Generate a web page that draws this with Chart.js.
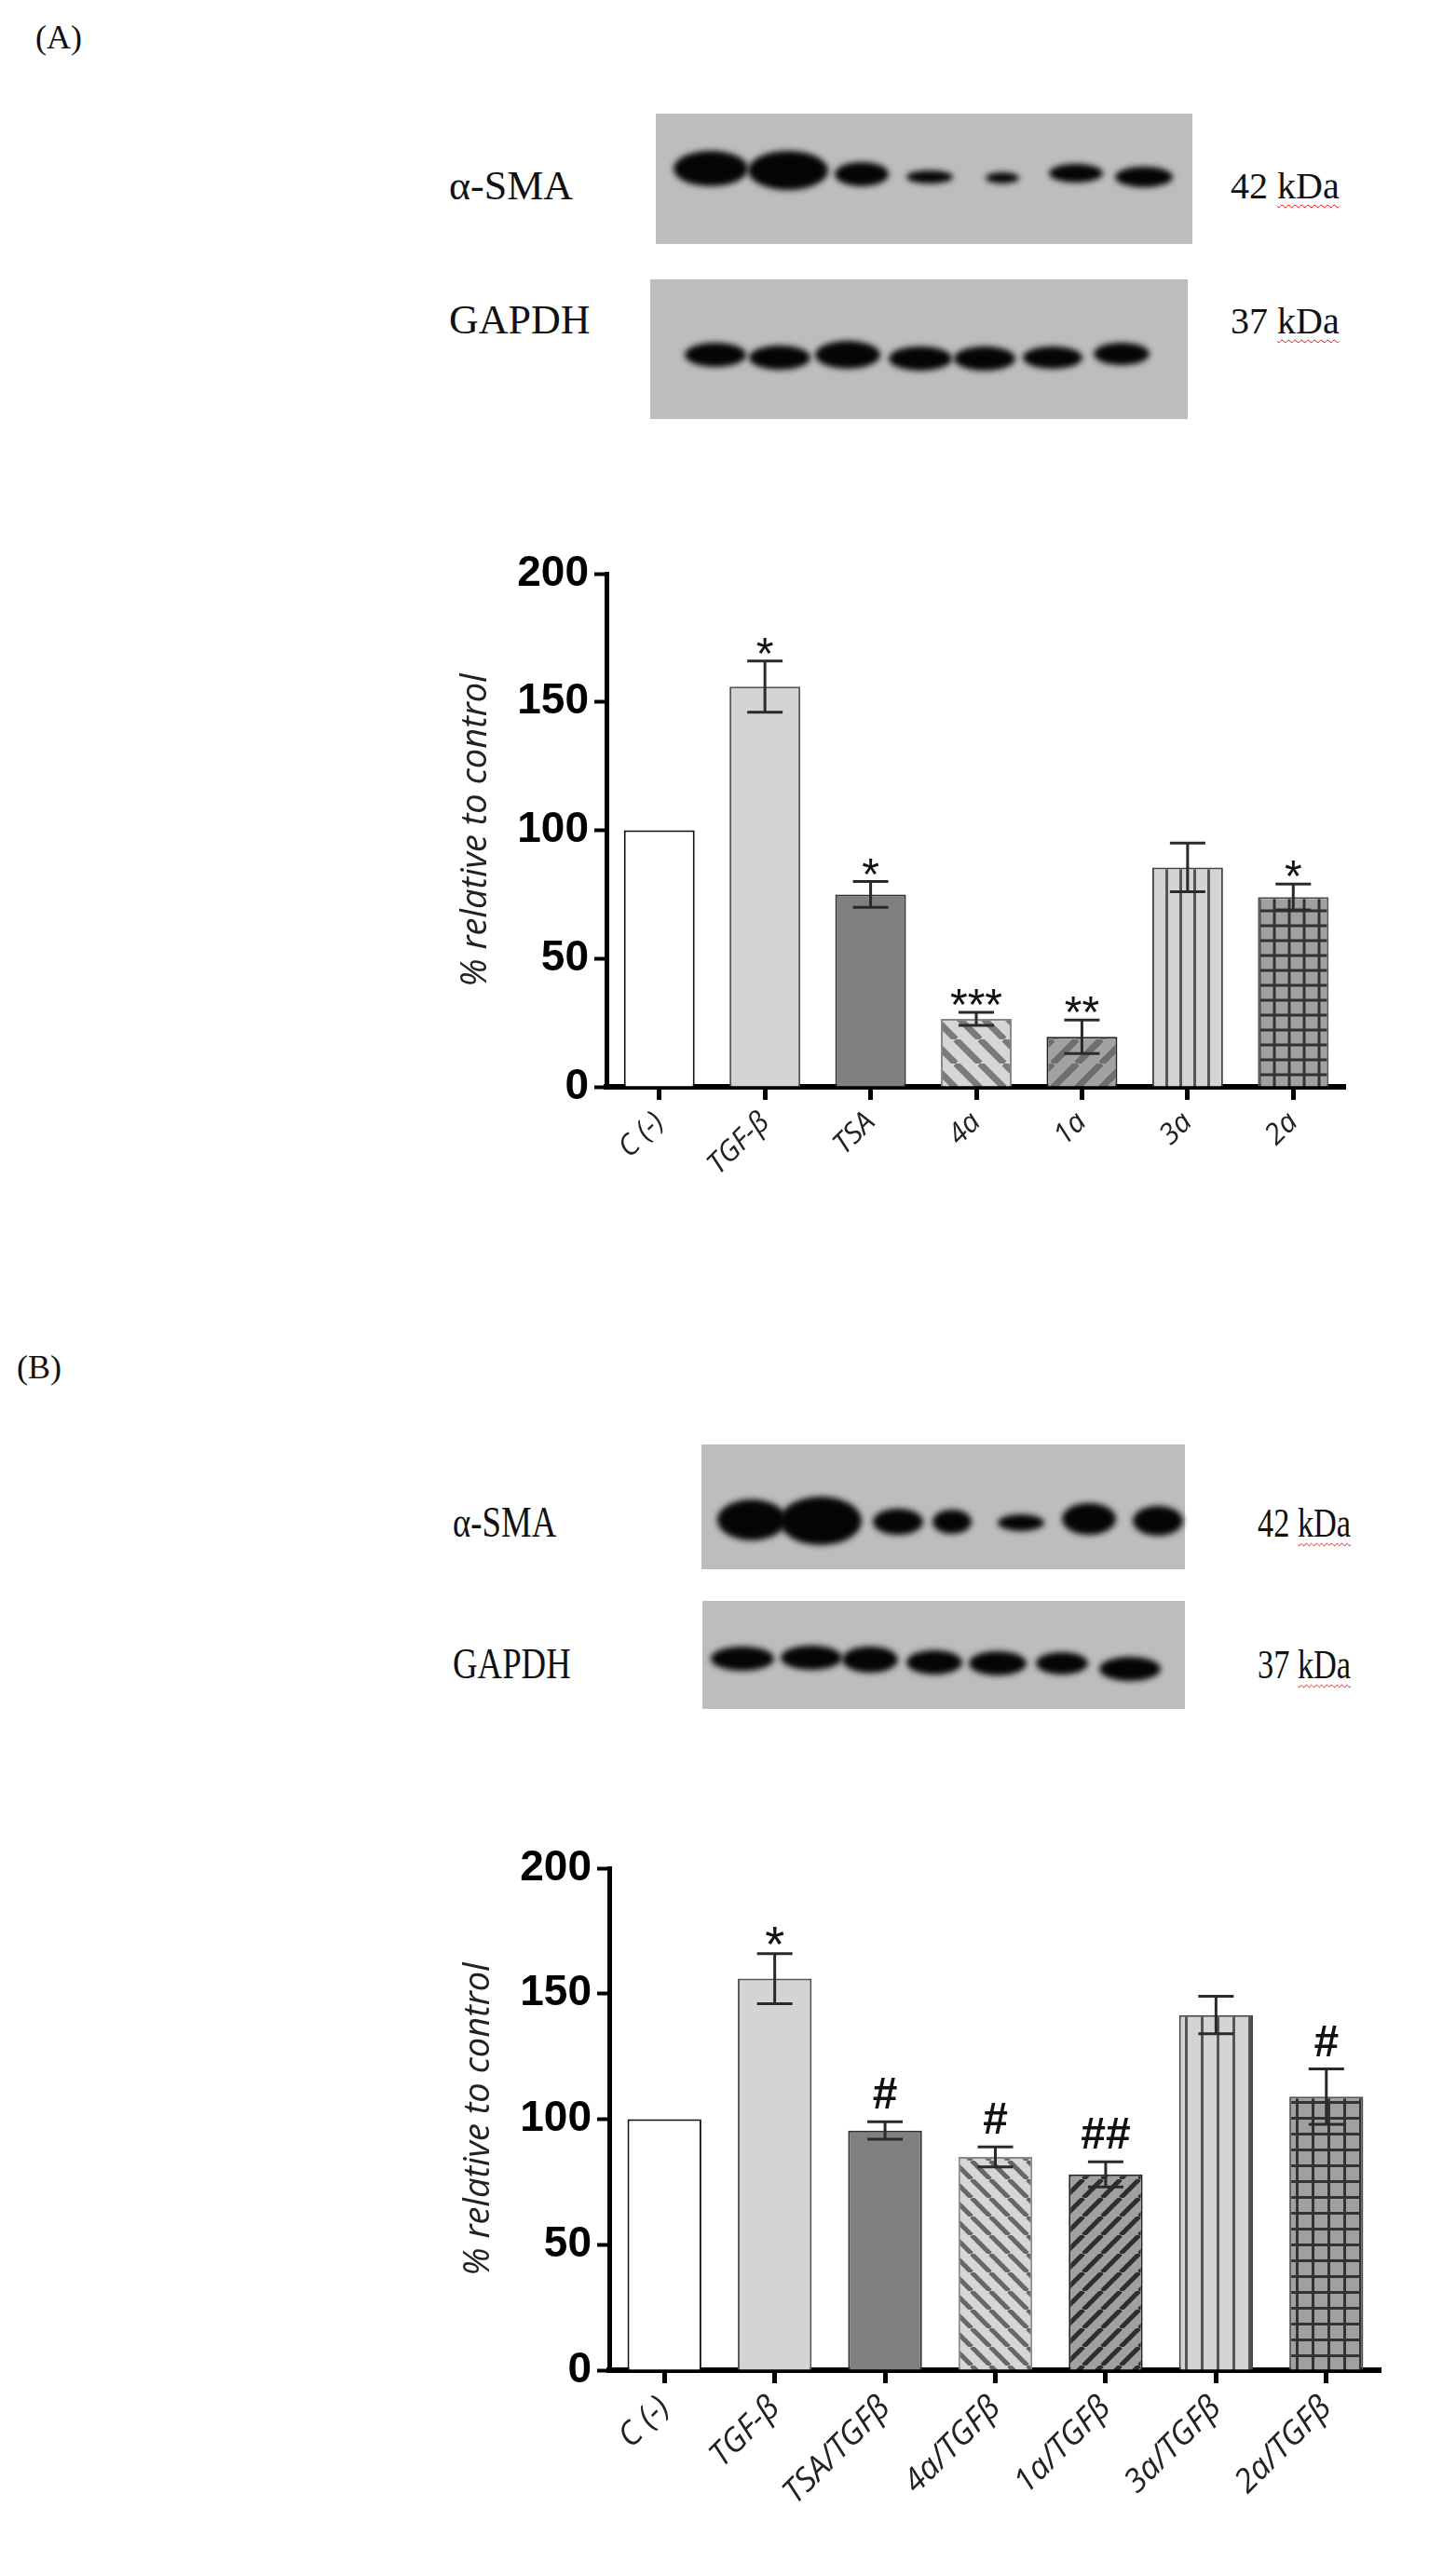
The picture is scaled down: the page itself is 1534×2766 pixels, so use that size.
<!DOCTYPE html>
<html><head><meta charset="utf-8">
<script src="https://cdn.jsdelivr.net/npm/chart.js@4"></script>
<style>
body{margin:0;width:1534px;height:2766px;background:#fff;position:relative;overflow:hidden;font-family:"Liberation Serif",serif}
.t{position:absolute;font-family:"Liberation Serif",serif;color:#111;white-space:nowrap;line-height:1}
.k span{text-decoration:underline wavy red;text-decoration-thickness:1px;text-underline-offset:6px}
canvas{position:absolute}
</style></head><body>
<div class="t" style="left:38px;top:22px;font-size:36px">(A)</div>
<div class="t" style="left:18px;top:1450px;font-size:36px">(B)</div>
<div class="t" style="left:482px;top:178px;font-size:44px">α-SMA</div>
<div class="t" style="left:482px;top:322px;font-size:44px">GAPDH</div>
<div class="t k" style="left:1321px;top:180px;font-size:40px">42 <span>kDa</span></div>
<div class="t k" style="left:1321px;top:325px;font-size:40px">37 <span>kDa</span></div>
<div class="t" style="left:486px;top:1612px;font-size:46px;transform:scaleX(0.8);transform-origin:left">α-SMA</div>
<div class="t" style="left:486px;top:1764px;font-size:46px;transform:scaleX(0.8);transform-origin:left">GAPDH</div>
<div class="t k" style="left:1350px;top:1614px;font-size:44px;transform:scaleX(0.78);transform-origin:left">42 <span>kDa</span></div>
<div class="t k" style="left:1350px;top:1766px;font-size:44px;transform:scaleX(0.78);transform-origin:left">37 <span>kDa</span></div>
<canvas id="blots" width="1534" height="2766" style="left:0;top:0"></canvas>
<canvas id="cA" width="965" height="737" style="left:480px;top:570px"></canvas>
<canvas id="cB" width="1000" height="760" style="left:483px;top:1960px"></canvas>
<script>
const categoriesA = ["C (-)", "TGF-β", "TSA", "4a", "1a", "3a", "2a"];
const categoriesB = ["C (-)", "TGF-β", "TSA/TGFβ", "4a/TGFβ", "1a/TGFβ", "3a/TGFβ", "2a/TGFβ"];
const valuesA = [100, 156, 75, 26.5, 19.5, 85.5, 74];
const semA = [0, 10, 5, 2.5, 6.5, 9.5, 5];
const marksA = ["", "*", "*", "***", "**", "", "*"];
const valuesB = [100, 156, 95.5, 85, 78, 141.5, 109];
const semB = [0, 10, 3.5, 4, 5, 7.5, 11];
const marksB = ["", "*", "#", "#", "##", "", "#"];
const yTicks = [0, 50, 100, 150, 200];

(function(){
  const c=document.getElementById('blots').getContext('2d');
  function box(x,y,w,h){c.fillStyle='#bdbdbd';c.fillRect(x,y,w,h);}
  function band(x,y,rx,ry){c.save();c.filter='blur(3px)';c.fillStyle='#050505';c.beginPath();c.ellipse(x,y,rx,ry,0,0,Math.PI*2);c.fill();c.restore();}
  box(704,122,576,140); box(698,300,577,150);
  [[763,181,40,19],[846,183,43,21],[925,187,29,13],[998,190,25,7],[1076,191,18,6],[1155,186,29,10],[1228,190,31,11]].forEach(b=>band(...b));
  [[768,381,33,13],[837,384,33,13],[910,381,35,15],[988,385,34,13],[1057,385,33,13],[1130,384,32,12],[1204,380,30,12]].forEach(b=>band(...b));
  box(753,1551,519,134); box(754,1719,518,116);
  [[807,1632,37,22],[881,1633,44,26],[964,1634,27,14],[1022,1634,21,13],[1096,1635,25,9],[1169,1631,29,17],[1243,1633,27,16]].forEach(b=>band(...b));
  [[797,1781,34,13],[871,1780,33,13],[934,1782,30,14],[1003,1785,30,13],[1071,1786,31,13],[1140,1786,28,12],[1213,1792,33,13]].forEach(b=>band(...b));
})();

function pat(bg, fg, type, s, lw){
  const cv=document.createElement('canvas');cv.width=s;cv.height=s;
  const x=cv.getContext('2d');x.fillStyle=bg;x.fillRect(0,0,s,s);
  x.strokeStyle=fg;x.lineWidth=lw;x.beginPath();
  if(type==='back'){for(let k=-1;k<=1;k++){x.moveTo(k*s,0);x.lineTo(k*s+s,s);}}
  else if(type==='fwd'){for(let k=-1;k<=1;k++){x.moveTo(k*s,s);x.lineTo(k*s+s,0);}}
  else if(type==='vert'){x.moveTo(s/2,0);x.lineTo(s/2,s);}
  else if(type==='grid'){x.moveTo(s/2,0);x.lineTo(s/2,s);x.moveTo(0,s/2);x.lineTo(s,s/2);}
  x.stroke();
  return x.createPattern(cv,'repeat');
}

function errPlugin(vals, sem, marks, starFont, hashFont){
  return {id:'err',afterDatasetsDraw(ch){
    const ctx=ch.ctx, ys=ch.scales.y, meta=ch.getDatasetMeta(0);
    ctx.save();
    vals.forEach((v,i)=>{
      const x=meta.data[i].x;
      const top=ys.getPixelForValue(v+sem[i]), bot=ys.getPixelForValue(v-sem[i]);
      if(sem[i]>0){
        ctx.strokeStyle='#2a2a2a';ctx.lineWidth=3;ctx.beginPath();
        ctx.moveTo(x,top);ctx.lineTo(x,bot);
        ctx.moveTo(x-19,top);ctx.lineTo(x+19,top);
        ctx.moveTo(x-19,bot);ctx.lineTo(x+19,bot);ctx.stroke();
      }
      if(marks[i]){
        ctx.fillStyle='#111';ctx.textAlign='center';ctx.textBaseline='alphabetic';
        const isHash=marks[i].includes('#');
        ctx.font=isHash?hashFont:starFont;
        ctx.fillText(marks[i],x,top-(isHash?14:-8));
      }
    });
    ctx.restore();
  }};
}

function make(id, cats, vals, sem, marks, pats, yW, xH, padTop, xFont, starFont, hashFont){
  new Chart(document.getElementById(id),{
    type:'bar',
    data:{labels:cats,datasets:[{data:vals,backgroundColor:pats,borderColor:['#111','#555','#333','#888','#222','#444','#555'],borderWidth:2,borderSkipped:'bottom',categoryPercentage:1,barPercentage:0.67}]},
    options:{responsive:false,devicePixelRatio:1,animation:false,
      layout:{padding:{top:padTop,left:0,right:0,bottom:0}},
      plugins:{legend:{display:false},tooltip:{enabled:false}},
      scales:{
        y:{min:0,max:200,afterFit(s){s.width=yW;},
          afterBuildTicks(s){s.ticks=yTicks.map(v=>({value:v}));},
          border:{display:true,color:'#000',width:5},
          grid:{drawOnChartArea:false,color:'#000',tickLength:13,tickWidth:4},
          ticks:{color:'#000',padding:6,font:{family:'"Liberation Sans Narrow","Liberation Sans",Arial',weight:'bold',size:46}},
          title:{display:true,text:'% relative to control',color:'#222',padding:{top:8,bottom:0},font:{family:'"Open Sans"',style:'italic',size:38}}},
        x:{afterFit(s){s.height=xH;},offset:true,
          border:{display:true,color:'#000',width:6},
          grid:{drawOnChartArea:false,offset:false,color:'#000',tickLength:14,tickWidth:5},
          ticks:{color:'#222',minRotation:45,maxRotation:45,padding:6,font:{family:'"Open Sans"',style:'italic',size:xFont}}}
      }},
    plugins:[errPlugin(vals,sem,marks,starFont,hashFont)]
  });
}

const patsA=['#ffffff','#d4d4d4','#808080',pat('#d6d6d6','#7a7a7a','back',26,7),pat('#a2a2a2','#6e6e6e','fwd',26,7),pat('#d4d4d4','#555','vert',15,3),pat('#a0a0a0','#333','grid',16,3)];
const patsB=['#ffffff','#d4d4d4','#808080',pat('#d6d6d6','#666','back',20,5),pat('#a0a0a0','#2e2e2e','fwd',20,5),pat('#d4d4d4','#555','vert',17,3),pat('#a0a0a0','#333','grid',17,3)];
make('cA',categoriesA,valuesA,semA,marksA,patsA,171,140,46,31,'48px "Liberation Sans",Arial','bold 48px "Liberation Sans",Arial');
make('cB',categoriesB,valuesB,semB,marksB,patsB,171,175,46,35,'54px "Liberation Sans",Arial','bold 48px "Liberation Sans",Arial');
</script></body></html>
